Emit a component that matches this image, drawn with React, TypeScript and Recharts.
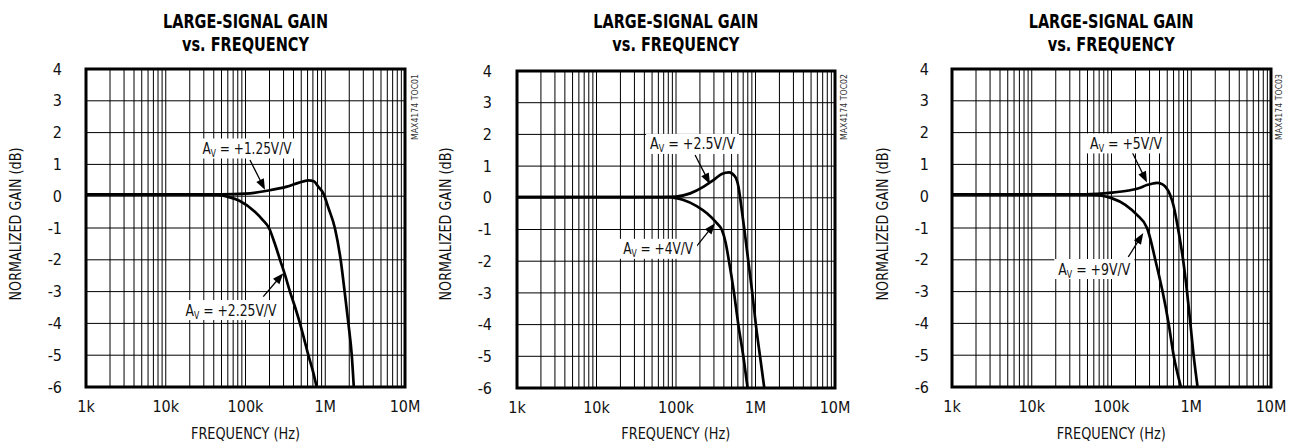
import React from 'react';
import { LineChart, Line, XAxis, YAxis, CartesianGrid, ReferenceArea, ReferenceLine, ReferenceDot } from 'recharts';

const FONT = "'Liberation Sans Narrow', 'Arial Narrow', 'DejaVu Sans Condensed', 'Liberation Sans', sans-serif";

// Axis ticks
const gridFreqs = [
  1000, 2000, 3000, 4000, 5000, 6000, 7000, 8000, 9000,
  10000, 20000, 30000, 40000, 50000, 60000, 70000, 80000, 90000,
  100000, 200000, 300000, 400000, 500000, 600000, 700000, 800000, 900000,
  1000000, 2000000, 3000000, 4000000, 5000000, 6000000, 7000000, 8000000, 9000000,
  10000000,
];
const decadeValues = [1000, 10000, 100000, 1000000, 10000000];
const decadeLabels = ['1k', '10k', '100k', '1M', '10M'];
const gainTicks = [-6, -5, -4, -3, -2, -1, 0, 1, 2, 3, 4];

// Chart 1: Av = +1.25V/V and +2.25V/V
const freq125 = [1e3, 1e4, 3e4, 5e4, 1e5, 1.85e5, 3.3e5, 4.6e5, 6.15e5, 7.2e5, 8.15e5, 9.46e5, 1.1e6, 1.32e6, 1.56e6, 1.75e6, 1.95e6, 2.15e6, 2.28e6];
const gain125 = [0.06, 0.06, 0.06, 0.06, 0.08, 0.17, 0.3, 0.42, 0.5, 0.47, 0.3, 0.09, -0.38, -1, -2, -3, -4, -5, -6];
const freq225 = [1e3, 2e4, 4.5e4, 6e4, 8.5e4, 1.3e5, 1.65e5, 1.97e5, 2.3e5, 2.71e5, 3.15e5, 3.61e5, 4.2e5, 4.82e5, 5.45e5, 6.14e5, 7e5, 7.81e5];
const gain225 = [0.06, 0.06, 0.04, -0.02, -0.15, -0.48, -0.75, -1.0, -1.45, -2.0, -2.5, -3.0, -3.5, -4.0, -4.5, -5.0, -5.5, -6.0];

// Chart 2: Av = +2.5V/V and +4V/V
const freq25 = [1e3, 5e4, 1e5, 1.51e5, 2.23e5, 2.96e5, 3.76e5, 4.66e5, 5.53e5, 6.1e5, 6.65e5, 7.24e5, 8.12e5, 9.11e5, 1.01e6, 1.14e6, 1.29e6];
const gain25 = [0.02, 0.02, 0.04, 0.14, 0.35, 0.56, 0.75, 0.8, 0.67, 0.35, -0.3, -1, -2, -3, -4, -5, -6];
const freq4 = [1e3, 8e4, 1e5, 1.24e5, 1.82e5, 2.45e5, 3.26e5, 3.76e5, 4.2e5, 4.64e5, 5.37e5, 6.08e5, 7.03e5, 7.96e5];
const gain4 = [0.02, 0.02, -0.01, -0.07, -0.26, -0.49, -0.8, -1, -1.4, -2, -3, -4, -5, -6];

// Chart 3: Av = +5V/V and +9V/V
const freq5 = [1e3, 4.7e4, 1e5, 1.64e5, 2.19e5, 2.77e5, 3.3e5, 3.72e5, 4.3e5, 4.73e5, 5.44e5, 6e5, 6.81e5, 7.9e5, 8.85e5, 9.75e5, 1.07e6, 1.2e6];
const gain5 = [0.06, 0.06, 0.11, 0.18, 0.25, 0.35, 0.4, 0.42, 0.38, 0.3, 0.04, -0.3, -1, -2, -3, -4, -5, -6];
const freq9 = [1e3, 4.7e4, 6.9e4, 1e5, 1.49e5, 2.09e5, 2.79e5, 3.15e5, 3.54e5, 3.95e5, 4.37e5, 5.2e5, 6.01e5, 7.43e5];
const gain9 = [0.06, 0.06, 0.03, -0.06, -0.27, -0.59, -1, -1.45, -2, -2.5, -3, -4, -5, -6];

const titles = ['MAX4174 TOC01', 'MAX4174 TOC02', 'MAX4174 TOC03'];

// Annotation anchors in data coordinates (frequency, gain)
const labels1 = [
  { f: 1.044e5, g: 1.5, text: ' = +1.25V/V', tl: 89 },
  { f: 6.58e4, g: -3.58, text: ' = +2.25V/V', tl: 91 },
];
const arrows1 = [
  { f1: 1.138e5, g1: 1.14, f2: 1.756e5, g2: 0.2 },
  { f1: 1.67e5, g1: -3.16, f2: 2.98e5, g2: -2.42 },
];
const labels2 = [
  { f: 1.617e5, g: 1.7, text: ' = +2.5V/V', tl: 85 },
  { f: 5.96e4, g: -1.61, text: ' = +4V/V', tl: 70 },
];
const arrows2 = [
  { f1: 1.738e5, g1: 1.35, f2: 2.68e5, g2: 0.43 },
  { f1: 1.738e5, g1: -1.59, f2: 3.1e5, g2: -0.8 },
];
const labels3 = [
  { f: 1.525e5, g: 1.66, text: ' = +5V/V', tl: 72 },
  { f: 6.09e4, g: -2.29, text: ' = +9V/V', tl: 72 },
];
const arrows3 = [
  { f1: 1.807e5, g1: 1.4, f2: 2.786e5, g2: 0.43 },
  { f1: 1.624e5, g1: -1.91, f2: 2.504e5, g2: -1.16 },
];

const toData = (fs: number[], gs: number[]) => fs.map((f, i) => ({ f, g: gs[i] }));

const Arrow = (props: any) => {
  const x1 = Number(props.x1), y1 = Number(props.y1), x2 = Number(props.x2), y2 = Number(props.y2);
  const dx = x2 - x1, dy = y2 - y1;
  const len = Math.hypot(dx, dy) || 1;
  const ux = dx / len, uy = dy / len;
  const hl = 11, hw = 4.2;
  const bx = x2 - ux * hl, by = y2 - uy * hl;
  const px = -uy, py = ux;
  return (
    <g>
      <line x1={x1} y1={y1} x2={bx + ux * 2} y2={by + uy * 2} stroke="#000" strokeWidth={1.3} />
      <polygon points={`${x2},${y2} ${bx + px * hw},${by + py * hw} ${bx - px * hw},${by - py * hw}`} fill="#000" />
    </g>
  );
};

const makeLabel = (text: string, tl: number) => (p: any) => {
  const cx = Number(p.cx), cy = Number(p.cy);
  const w = tl + 8, h = 20;
  return (
    <g>
      <rect x={cx - w / 2} y={cy - h / 2} width={w} height={h} fill="#fff" />
      <text x={cx - tl / 2} y={cy + 5.5} fontFamily={FONT} fontSize={16} fill="#111" textLength={tl} lengthAdjust="spacingAndGlyphs">
        A<tspan fontSize={10} dy={3}>V</tspan><tspan dy={-3}>{text}</tspan>
      </text>
    </g>
  );
};

const fmtX = (v: number) => {
  const i = decadeValues.indexOf(v);
  return i >= 0 ? decadeLabels[i] : '';
};

type ChartProps = {
  left: number;
  margin: { top: number; right: number; bottom: number; left: number };
  yGap: number;
  seriesA: { f: number; g: number }[];
  seriesB: { f: number; g: number }[];
  labels: { f: number; g: number; text: string; tl: number }[];
  arrows: { f1: number; g1: number; f2: number; g2: number }[];
};

const Y_W = 60;
const X_H = 40;

const Panel = ({ left, margin, yGap, seriesA, seriesB, labels, arrows }: ChartProps) => (
  <div style={{ position: 'absolute', left, top: 0 }}>
    <LineChart width={430} height={444} margin={{ top: margin.top, right: margin.right, bottom: margin.bottom - X_H, left: margin.left - Y_W }}>
      <CartesianGrid stroke="#000" strokeWidth={1} />
      <XAxis
        type="number"
        dataKey="f"
        scale="log"
        domain={[1000, 10000000]}
        ticks={gridFreqs}
        interval={0}
        allowDataOverflow
        height={X_H}
        tickSize={0}
        tickMargin={14}
        axisLine={false}
        tickLine={false}
        tickFormatter={fmtX}
        tick={{ fontFamily: FONT, fontSize: 16, fill: '#111' }}
      />
      <YAxis
        type="number"
        domain={[-6, 4]}
        ticks={gainTicks}
        interval={0}
        allowDataOverflow
        width={Y_W}
        tickSize={0}
        tickMargin={yGap}
        axisLine={false}
        tickLine={false}
        tick={{ fontFamily: FONT, fontSize: 16, fill: '#111' }}
      />
      <ReferenceArea x1={1000} x2={10000000} y1={-6} y2={4} fill="none" fillOpacity={0} stroke="#000" strokeWidth={3} ifOverflow="visible" />
      {labels.map((l, i) => (
        <ReferenceDot key={'l' + i} x={l.f} y={l.g} r={1} ifOverflow="visible" shape={makeLabel(l.text, l.tl)} />
      ))}
      {arrows.map((a, i) => (
        <ReferenceLine key={'a' + i} segment={[{ x: a.f1, y: a.g1 }, { x: a.f2, y: a.g2 }]} ifOverflow="visible" shape={Arrow} />
      ))}
      <Line data={seriesA} dataKey="g" type="monotone" stroke="#000" strokeWidth={2.7} dot={false} isAnimationActive={false} />
      <Line data={seriesB} dataKey="g" type="monotone" stroke="#000" strokeWidth={2.7} dot={false} isAnimationActive={false} />
    </LineChart>
  </div>
);

const titleCenters = [245.5, 675.8, 1111.2];
const yLabelCenters = [15.5, 445.5, 882];
const tocCenters = [415, 844, 1279];

export default function App() {
  return (
    <div style={{ position: 'absolute', left: 0, top: 0, width: 1290, height: 444, background: '#fff', overflow: 'hidden' }}>
      <Panel left={0} margin={{ top: 69, right: 25, bottom: 57, left: 86 }} yGap={24}
        seriesA={toData(freq125, gain125)} seriesB={toData(freq225, gain225)} labels={labels1} arrows={arrows1} />
      <Panel left={430} margin={{ top: 71, right: 25, bottom: 56, left: 87 }} yGap={25}
        seriesA={toData(freq25, gain25)} seriesB={toData(freq4, gain4)} labels={labels2} arrows={arrows2} />
      <Panel left={860} margin={{ top: 69, right: 19, bottom: 57, left: 92 }} yGap={23}
        seriesA={toData(freq5, gain5)} seriesB={toData(freq9, gain9)} labels={labels3} arrows={arrows3} />
      <svg width={1290} height={444} style={{ position: 'absolute', left: 0, top: 0, pointerEvents: 'none' }}>
        {titleCenters.map((cx, i) => (
          <g key={'t' + i}>
            <text x={cx - 82.5} y={27.5} fontFamily={FONT} fontWeight={900} fontSize={20} fill="#000" textLength={165} lengthAdjust="spacingAndGlyphs">LARGE-SIGNAL GAIN</text>
            <text x={cx - 63.5} y={51} fontFamily={FONT} fontWeight={900} fontSize={20} fill="#000" textLength={127} lengthAdjust="spacingAndGlyphs">vs. FREQUENCY</text>
            <text x={cx - 54.5} y={439} fontFamily={FONT} fontSize={15} fill="#111" textLength={109} lengthAdjust="spacingAndGlyphs">FREQUENCY (Hz)</text>
          </g>
        ))}
        {yLabelCenters.map((cx, i) => (
          <text key={'y' + i} transform={`translate(${cx + 5.5},${224}) rotate(-90)`} x={-76.5} y={0} fontFamily={FONT} fontSize={15} fill="#111" textLength={153} lengthAdjust="spacingAndGlyphs">NORMALIZED GAIN (dB)</text>
        ))}
        {tocCenters.map((cx, i) => (
          <text key={'c' + i} transform={`translate(${cx + 3},${107}) rotate(-90)`} x={-33} y={0} fontFamily={FONT} fontSize={9} fill="#333" textLength={66} lengthAdjust="spacingAndGlyphs">{titles[i]}</text>
        ))}
      </svg>
    </div>
  );
}
